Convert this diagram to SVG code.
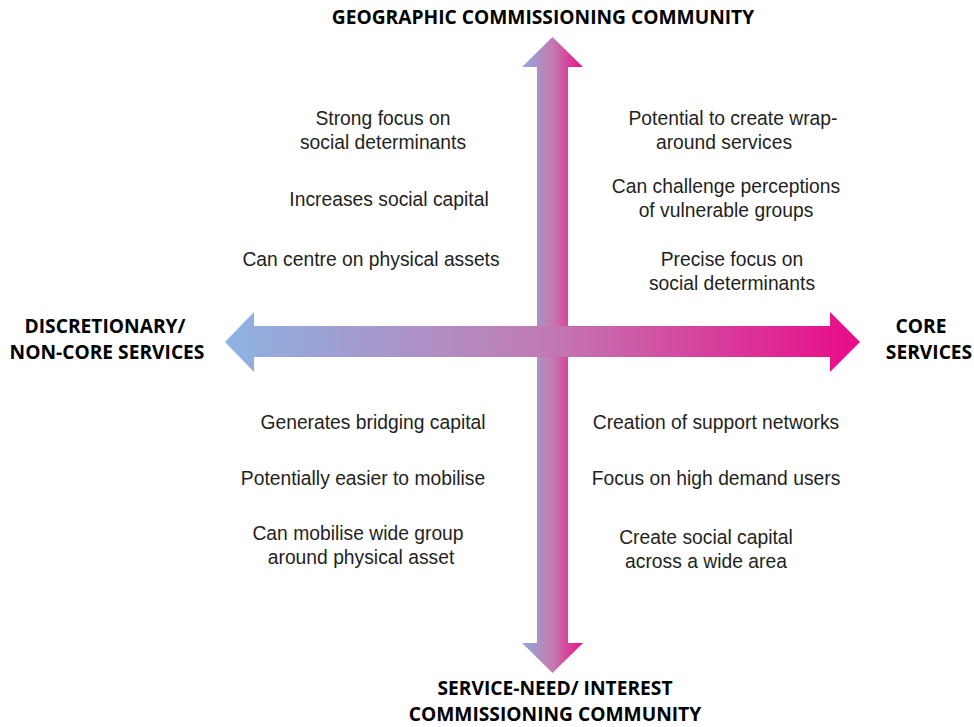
<svg xmlns="http://www.w3.org/2000/svg" width="974" height="727" viewBox="0 0 974 727">
<defs>
<linearGradient id="gh" x1="225" y1="0" x2="860" y2="0" gradientUnits="userSpaceOnUse">
<stop offset="0" stop-color="#8db3e2"/>
<stop offset="0.5" stop-color="#c17bb4"/>
<stop offset="1" stop-color="#ea0a88"/>
</linearGradient>
<linearGradient id="gv" x1="522" y1="0" x2="583" y2="0" gradientUnits="userSpaceOnUse">
<stop offset="0" stop-color="#90a9dc"/>
<stop offset="0.5" stop-color="#c47ab0"/>
<stop offset="1" stop-color="#ea0f88"/>
</linearGradient>
<style>
.b{font-family:"Liberation Sans",Arial,sans-serif;font-size:19.3px;fill:#231f20;text-anchor:middle}
.t{font-family:"Open Sans","Liberation Sans",sans-serif;font-size:19.2px;font-weight:700;fill:#000;text-anchor:middle}
</style>
</defs>
<g id="connectors">
<path id="vertical-arrow" d="M552.5 37 L583 67 L568 67 L568 643 L583 643 L552.5 673 L522 643 L537 643 L537 67 L522 67 Z" fill="url(#gv)"/>
<path id="horizontal-arrow" d="M225 342 L254 312 L254 326 L830 326 L830 312 L860 342 L830 372 L830 357 L254 357 L254 372 Z" fill="url(#gh)"/>
</g>
<g id="top-title"><text class="t" x="543" y="24">GEOGRAPHIC COMMISSIONING COMMUNITY</text></g>
<g id="bottom-title"><text class="t" x="555" y="695">SERVICE-NEED/ INTEREST</text><text class="t" x="555" y="721">COMMISSIONING COMMUNITY</text></g>
<g id="left-title"><text class="t" x="105" y="333">DISCRETIONARY/</text><text class="t" x="107" y="359">NON-CORE SERVICES</text></g>
<g id="right-title"><text class="t" x="921" y="333">CORE</text><text class="t" x="929" y="359">SERVICES</text></g>
<g id="top-left">
<text class="b" x="383" y="125">Strong focus on</text>
<text class="b" x="383" y="149">social determinants</text>
<text class="b" x="389" y="206">Increases social capital</text>
<text class="b" x="371" y="266">Can centre on physical assets</text>
</g>
<g id="top-right">
<text class="b" x="733" y="125">Potential to create wrap-</text>
<text class="b" x="724" y="149">around services</text>
<text class="b" x="726" y="193">Can challenge perceptions</text>
<text class="b" x="726" y="217">of vulnerable groups</text>
<text class="b" x="732" y="266">Precise focus on</text>
<text class="b" x="732" y="290">social determinants</text>
</g>
<g id="bottom-left">
<text class="b" x="373" y="429">Generates bridging capital</text>
<text class="b" x="363" y="485">Potentially easier to mobilise</text>
<text class="b" x="358" y="540">Can mobilise wide group</text>
<text class="b" x="361" y="564">around physical asset</text>
</g>
<g id="bottom-right">
<text class="b" x="716" y="429">Creation of support networks</text>
<text class="b" x="716" y="485">Focus on high demand users</text>
<text class="b" x="706" y="544">Create social capital</text>
<text class="b" x="706" y="568">across a wide area</text>
</g>
</svg>
